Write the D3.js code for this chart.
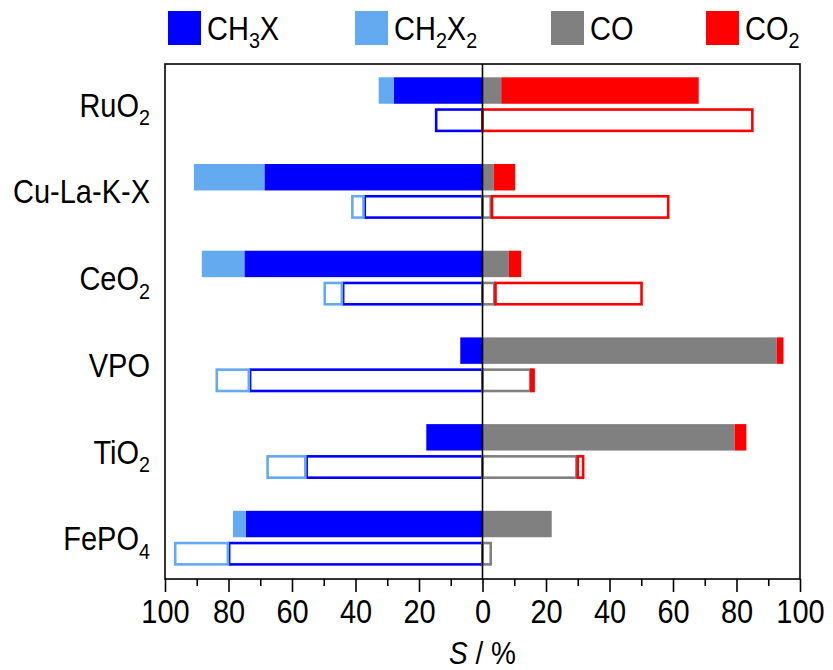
<!DOCTYPE html>
<html>
<head>
<meta charset="utf-8">
<script src="https://cdn.jsdelivr.net/npm/d3@7"></script>
<style>
  body { margin: 0; background: #fff; }
  svg { display: block; }
  text { font-family: "Liberation Sans", Arial, sans-serif; fill: #000; }
</style>
</head>
<body>
<svg id="chart" width="833" height="670"></svg>
<script>
// Catalysts, top to bottom
const categories = ["RuO2", "Cu-La-K-X", "CeO2", "VPO", "TiO2", "FePO4"];

// Product series
const seriesNames = ["CH3X", "CH2X2", "CO", "CO2"];
const seriesColors = ["#0000ff", "#64aaf0", "#808080", "#ff0000"];

// Selectivities (%) for the filled bars
const ch3xFilled  = [28.0, 68.7, 75.0,  7.0, 17.7, 74.6];
const ch2x2Filled = [ 4.7, 22.2, 13.4,  0.0,  0.0,  4.0];
const coFilled    = [ 5.9,  3.5,  8.3, 92.7, 79.4, 21.8];
const co2Filled   = [62.2,  6.8,  3.9,  2.1,  3.7,  0.0];

// Selectivities (%) for the open bars
const ch3xOpen  = [15.0, 37.5, 44.3, 73.6, 55.8, 80.2];
const ch2x2Open = [ 0.0,  3.9,  5.8, 10.5, 12.3, 17.0];
const coOpen    = [ 0.0,  3.0,  4.1, 15.4, 30.0,  3.0];
const co2Open   = [85.4, 55.9, 46.4,  1.1,  2.1,  0.0];

// Axis ticks
const majorTicks = [-100, -80, -60, -40, -20, 0, 20, 40, 60, 80, 100];
const minorTicks = [-90, -70, -50, -30, -10, 10, 30, 50, 70, 90];
const axisTitle = "S / %";

const svg = d3.select("#chart");
const W = 833, H = 670;
svg.append("rect").attr("width", W).attr("height", H).attr("fill", "#fff");

const plot = { left: 165, right: 800, top: 64, bottom: 579 };
const FONT = 29;       // text size
const STRETCH = 1.15;  // glyphs are drawn slightly tall

const x = d3.scaleLinear().domain([-100, 100]).range([plot.left, plot.right]);
const y = d3.scaleLinear().domain([-0.47, categories.length - 0.53]).range([plot.top, plot.bottom]);
const step = y(1) - y(0);

// Text placed at (px, py) baseline, with vertical stretch
function label(parent, px, py, anchor, size) {
  return parent.append("text")
    .attr("transform", `translate(${px},${py}) scale(1,${STRETCH})`)
    .attr("text-anchor", anchor)
    .attr("font-size", size);
}

// Writes chemical formulas with numeric subscripts
function formula(sel, str, size) {
  const parts = str.split(/(\d+)/).filter(s => s.length);
  parts.forEach((p, i) => {
    const isSub = /^\d+$/.test(p);
    const prevSub = i > 0 && /^\d+$/.test(parts[i - 1]);
    const t = sel.append("tspan").text(p);
    if (isSub) {
      t.attr("font-size", size * 0.68).attr("dy", size * 0.25);
    } else if (prevSub) {
      t.attr("dy", -size * 0.25);
    }
  });
  return sel;
}

// Stacked segments: CH3X / CH2X2 go left, CO / CO2 go right
function segments(a, b, c, d) {
  return categories.map((cat, i) => {
    const out = [];
    out.push({ i, s: 0, x0: 0, x1: -a[i] });
    out.push({ i, s: 1, x0: -a[i], x1: -(a[i] + b[i]) });
    out.push({ i, s: 2, x0: 0, x1: c[i] });
    out.push({ i, s: 3, x0: c[i], x1: c[i] + d[i] });
    return out.filter(o => o.x0 !== o.x1);
  }).flat();
}

const filled = segments(ch3xFilled, ch2x2Filled, coFilled, co2Filled);
const open = segments(ch3xOpen, ch2x2Open, coOpen, co2Open);

const barH = step * 0.305;
const filledTop = i => y(i) - barH - 1;
const sw = 2.6;
const openTop = i => y(i) + 3.5 + sw / 2;
const openH = barH - 2.5 - sw;

const g = svg.append("g");

g.selectAll("rect.filled").data(filled).join("rect")
  .attr("class", "filled")
  .attr("x", d => x(Math.min(d.x0, d.x1)))
  .attr("width", d => Math.abs(x(d.x1) - x(d.x0)))
  .attr("y", d => filledTop(d.i))
  .attr("height", barH)
  .attr("fill", d => seriesColors[d.s]);

g.selectAll("rect.open").data(open).join("rect")
  .attr("class", "open")
  .attr("x", d => x(Math.min(d.x0, d.x1)) + (d.x1 < 0 ? sw / 2 : 0))
  .attr("width", d => Math.max(0.5, Math.abs(x(d.x1) - x(d.x0)) - sw / 2))
  .attr("y", d => openTop(d.i))
  .attr("height", openH)
  .attr("fill", "#fff")
  .attr("stroke", d => seriesColors[d.s])
  .attr("stroke-width", sw);

// Frame
svg.append("rect")
  .attr("x", plot.left).attr("y", plot.top)
  .attr("width", plot.right - plot.left).attr("height", plot.bottom - plot.top)
  .attr("fill", "none").attr("stroke", "#000").attr("stroke-width", 1.6);

// Zero line
svg.append("line")
  .attr("x1", x(0)).attr("x2", x(0))
  .attr("y1", plot.top).attr("y2", plot.bottom)
  .attr("stroke", "#000").attr("stroke-width", 1.6);

// Bottom axis: major ticks with labels, minor ticks without
const axisMajor = d3.axisBottom(x).tickValues(majorTicks).tickSize(13)
  .tickFormat(d => Math.abs(d));
const axG = svg.append("g").attr("transform", `translate(0,${plot.bottom})`).call(axisMajor);
axG.select(".domain").remove();
axG.selectAll(".tick line").attr("stroke", "#000").attr("stroke-width", 1.6);
axG.selectAll(".tick text")
  .attr("y", null).attr("dy", null)
  .attr("transform", `translate(0,44) scale(1,${STRETCH})`)
  .attr("font-size", FONT)
  .attr("font-family", "Liberation Sans, Arial, sans-serif")
  .attr("fill", "#000");

const axisMinor = d3.axisBottom(x).tickValues(minorTicks).tickSize(7).tickFormat("");
const axM = svg.append("g").attr("transform", `translate(0,${plot.bottom})`).call(axisMinor);
axM.select(".domain").remove();
axM.selectAll(".tick line").attr("stroke", "#000").attr("stroke-width", 1.6);

// Axis title
const title = label(svg, x(0), 664, "middle", FONT - 1);
title.append("tspan").attr("font-style", "italic").text(axisTitle.split(" ")[0]);
title.append("tspan").text(" " + axisTitle.split(" ").slice(1).join(" "));

// Category labels
categories.forEach((c, i) => {
  formula(label(svg, plot.left - 15, y(i) + 12, "end", FONT), c, FONT);
});

// Legend
const legendX = [168, 355, 551, 706];
seriesNames.forEach((n, i) => {
  svg.append("rect")
    .attr("x", legendX[i]).attr("y", 11)
    .attr("width", 33).attr("height", 34)
    .attr("fill", seriesColors[i]);
  formula(label(svg, legendX[i] + 39, 40, "start", FONT), n, FONT);
});
</script>
</body>
</html>
